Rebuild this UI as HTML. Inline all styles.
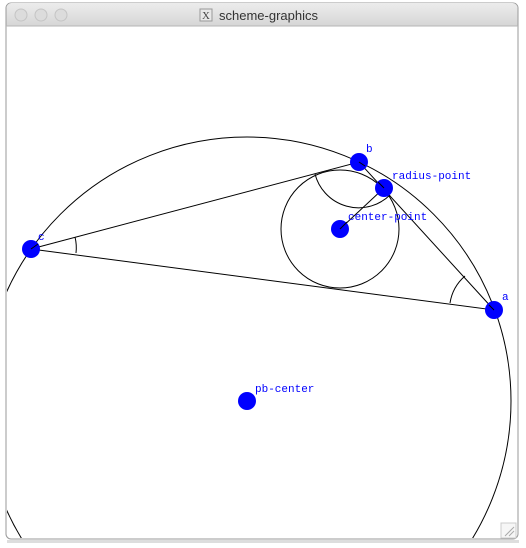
<!DOCTYPE html>
<html><head><meta charset="utf-8"><style>
html,body{margin:0;padding:0;background:#fff;width:526px;height:548px;overflow:hidden}
svg{display:block}
</style></head><body>
<svg width="526" height="548" viewBox="0 0 526 548">
<defs>
<linearGradient id="tb" x1="0" y1="0" x2="0" y2="1"><stop offset="0" stop-color="#ececec"/><stop offset="1" stop-color="#d6d6d6"/></linearGradient>
<clipPath id="cc"><rect x="7" y="26" width="510" height="512"/></clipPath>
</defs>
<rect x="7" y="540" width="512" height="3" fill="#bbb" opacity="0.5"/>
<rect x="6" y="3" width="512" height="536" rx="5" fill="#fff" stroke="#9a9a9a" stroke-width="1"/>
<path d="M6.5 26 V8 a5 5 0 0 1 5 -5 H512.5 a5 5 0 0 1 5 5 V26 Z" fill="url(#tb)"/>
<line x1="6" y1="26" x2="518" y2="26" stroke="#b5b5b5"/>
<circle cx="21" cy="15" r="6" fill="#dcdcdc" stroke="#c4c4c4"/>
<circle cx="41" cy="15" r="6" fill="#dcdcdc" stroke="#c4c4c4"/>
<circle cx="61" cy="15" r="6" fill="#dcdcdc" stroke="#c4c4c4"/>
<rect x="200" y="9" width="12" height="12" fill="#e8e8e8" stroke="#999"/>
<text x="206" y="19" font-family="Liberation Serif,serif" font-size="11" text-anchor="middle" fill="#444">X</text>
<text x="219" y="20" font-family="Liberation Sans,sans-serif" font-size="13" fill="#333">scheme-graphics</text>
<g clip-path="url(#cc)" fill="none" stroke="#000" stroke-width="1">
<circle cx="247" cy="401" r="264"/>
<circle cx="340" cy="229" r="59"/>
<polygon points="31,249 359,162 494,310"/>
<line x1="340" y1="229" x2="384" y2="188"/>
<path d="M76 253 A45 45 0 0 0 75 237"/>
<path d="M450 303 A45 45 0 0 1 465 276"/>
<path d="M315 174 A45 45 0 0 0 390 195"/>
</g>
<g fill="#0000ff">
<circle cx="31" cy="249" r="9"/>
<circle cx="359" cy="162" r="9"/>
<circle cx="494" cy="310" r="9"/>
<circle cx="384" cy="188" r="9"/>
<circle cx="340" cy="229" r="9"/>
<circle cx="247" cy="401" r="9"/>
</g>
<g stroke="#000" stroke-width="1">
<line x1="31" y1="249" x2="38" y2="244"/><line x1="359" y1="162" x2="365" y2="166"/><line x1="494" y1="310" x2="489" y2="305"/>
<line x1="340" y1="229" x2="347" y2="222"/><line x1="384" y1="188" x2="378" y2="182"/>
</g>
<g font-family="Liberation Mono,monospace" font-size="11" fill="#0000ff">
<text x="38" y="240">c</text>
<text x="366" y="152">b</text>
<text x="502" y="300">a</text>
<text x="392" y="179">radius-point</text>
<text x="348" y="220">center-point</text>
<text x="255" y="392">pb-center</text>
</g>
<g stroke="#aaa">
<rect x="501" y="523" width="15" height="15" fill="#f6f6f6" stroke="#ccc"/>
<line x1="505" y1="536" x2="514" y2="527"/><line x1="509" y1="536" x2="514" y2="531"/>
</g>
</svg>
</body></html>
